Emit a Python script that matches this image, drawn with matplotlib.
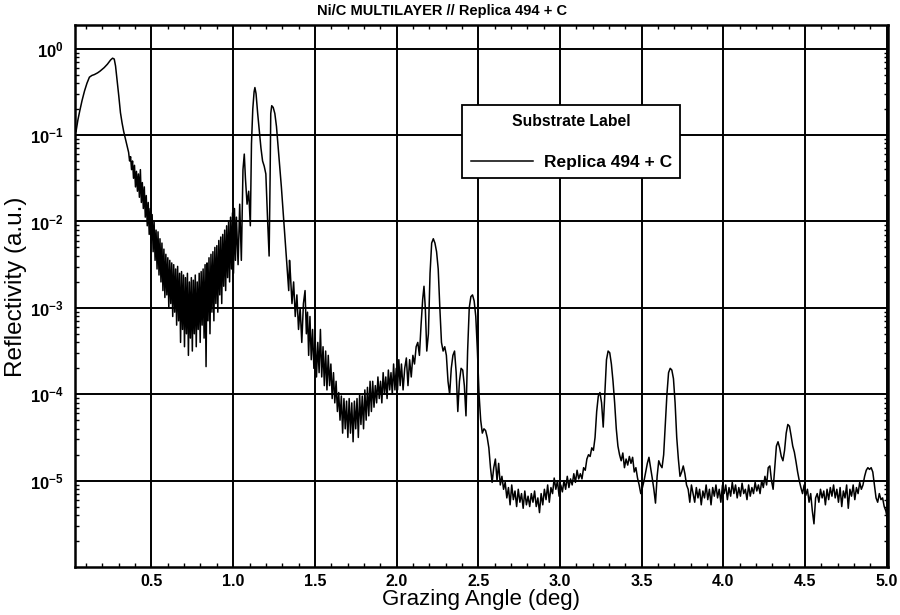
import numpy as np
import matplotlib
matplotlib.use("Agg")
import matplotlib.pyplot as plt
from matplotlib.ticker import MultipleLocator, FixedLocator, LogLocator, NullFormatter

plt.rcParams['font.family'] = ['Liberation Sans', 'DejaVu Sans']

# (grazing angle [deg], log10 reflectivity)
scan = [
    # total reflection plateau
    (0.038, -0.96), (0.05, -0.82), (0.061, -0.72), (0.075, -0.60), (0.09, -0.49),
    (0.105, -0.40), (0.12, -0.33), (0.135, -0.31), (0.15, -0.30), (0.17, -0.28),
    (0.185, -0.26), (0.21, -0.22), (0.23, -0.18), (0.25, -0.13), (0.262, -0.11),
    (0.272, -0.12), (0.28, -0.20), (0.29, -0.37), (0.30, -0.55), (0.31, -0.74),
    (0.32, -0.86), (0.33, -0.96), (0.345, -1.08), (0.36, -1.20),
    # noisy fall-off
    (0.366, -1.30), (0.372, -1.25), (0.378, -1.40), (0.384, -1.30), (0.390, -1.50),
    (0.396, -1.35), (0.402, -1.60), (0.408, -1.42), (0.414, -1.65), (0.420, -1.45),
    (0.426, -1.72), (0.432, -1.40), (0.438, -1.78), (0.444, -1.55), (0.450, -1.85),
    (0.456, -1.60), (0.462, -1.95), (0.468, -1.70), (0.474, -2.05), (0.480, -1.78),
    (0.486, -2.15), (0.492, -1.85), (0.498, -2.25), (0.504, -1.92), (0.510, -2.35),
    (0.516, -2.00), (0.522, -2.45), (0.528, -2.10), (0.534, -2.55), (0.540, -2.12),
    (0.546, -2.62), (0.552, -2.20), (0.558, -2.70), (0.564, -2.25), (0.570, -2.80),
    (0.576, -2.32), (0.582, -2.88), (0.588, -2.38), (0.594, -2.85), (0.600, -2.42),
    (0.606, -3.00), (0.612, -2.45), (0.618, -2.95), (0.624, -2.48), (0.630, -3.10),
    (0.636, -2.50), (0.642, -3.05), (0.648, -2.55), (0.654, -3.20), (0.660, -2.52),
    (0.666, -3.15), (0.672, -2.60), (0.678, -3.40), (0.684, -2.58), (0.690, -3.25),
    (0.696, -2.62), (0.702, -3.45), (0.708, -2.65), (0.714, -3.30), (0.720, -2.60),
    (0.726, -3.55), (0.732, -2.70), (0.738, -3.35), (0.744, -2.65), (0.750, -3.50),
    (0.756, -2.68), (0.762, -3.30), (0.768, -2.62), (0.774, -3.45), (0.780, -2.70),
    (0.786, -3.25), (0.792, -2.60), (0.798, -3.40), (0.804, -2.58), (0.810, -3.20),
    (0.816, -2.55), (0.822, -3.35), (0.828, -2.50), (0.834, -3.68), (0.840, -2.48),
    (0.846, -3.15), (0.852, -2.42), (0.858, -3.30), (0.864, -2.38), (0.870, -3.05),
    (0.876, -2.35), (0.882, -3.15), (0.888, -2.30), (0.894, -2.95), (0.900, -2.28),
    (0.906, -3.05), (0.912, -2.22), (0.918, -2.85), (0.924, -2.18), (0.930, -2.95),
    (0.936, -2.15), (0.942, -2.75), (0.948, -2.10), (0.954, -2.80), (0.960, -2.05),
    (0.966, -2.65), (0.972, -2.00), (0.978, -2.70), (0.984, -1.95), (0.990, -2.55),
    (0.996, -1.90), (1.002, -2.60), (1.008, -1.85), (1.014, -2.45), (1.020, -1.95),
    (1.030, -2.50), (1.040, -1.80), (1.050, -2.45),
    # first Bragg peaks
    (1.060, -1.40), (1.068, -1.22), (1.075, -1.50), (1.085, -1.80), (1.095, -1.65),
    (1.105, -2.05), (1.112, -1.10), (1.120, -0.70), (1.128, -0.50), (1.133, -0.45),
    (1.140, -0.52), (1.150, -0.75), (1.160, -0.95), (1.170, -1.15), (1.180, -1.30),
    (1.190, -1.36), (1.200, -1.45), (1.210, -1.95), (1.220, -2.40), (1.226, -1.50),
    (1.230, -0.75), (1.236, -0.66), (1.245, -0.68), (1.255, -0.75), (1.265, -0.90),
    (1.280, -1.25), (1.295, -1.60), (1.310, -2.00), (1.325, -2.40), (1.335, -2.65),
    (1.340, -2.80), (1.345, -2.45), (1.350, -2.60), (1.360, -2.95), (1.370, -2.70),
    (1.380, -3.10), (1.390, -2.85), (1.400, -3.25), (1.410, -3.00), (1.420, -3.40),
    (1.430, -2.95), (1.440, -2.80), (1.448, -3.30), (1.455, -3.05), (1.462, -3.55),
    (1.470, -3.10), (1.478, -3.60), (1.486, -3.25), (1.494, -3.70), (1.502, -3.35),
    (1.510, -3.80), (1.518, -3.40), (1.526, -3.75), (1.534, -3.25), (1.542, -3.80),
    (1.550, -3.45), (1.558, -3.90), (1.566, -3.50), (1.574, -3.95), (1.582, -3.55),
    (1.590, -3.90), (1.598, -3.65), (1.606, -4.05), (1.614, -3.75), (1.622, -4.10),
    (1.630, -3.85), (1.638, -4.20), (1.646, -3.98), (1.654, -4.30), (1.662, -4.02),
    (1.670, -4.45), (1.678, -4.05), (1.686, -4.40), (1.694, -4.08), (1.702, -4.50),
    (1.710, -4.05), (1.718, -4.45), (1.726, -4.10), (1.734, -4.55), (1.742, -4.08),
    (1.750, -4.40), (1.758, -4.05), (1.766, -4.50), (1.774, -4.00), (1.782, -4.35),
    (1.790, -4.02), (1.798, -4.40), (1.806, -3.95), (1.814, -4.30), (1.822, -3.92),
    (1.830, -4.25), (1.838, -3.85), (1.846, -4.20), (1.854, -3.85), (1.862, -4.15),
    (1.870, -3.90), (1.878, -4.10), (1.886, -3.80), (1.894, -4.05), (1.902, -3.85),
    (1.910, -4.10), (1.918, -3.75), (1.926, -4.00), (1.934, -3.80), (1.942, -4.05),
    (1.950, -3.72), (1.958, -3.95), (1.966, -3.75), (1.974, -4.00), (1.982, -3.65),
    (1.990, -3.95), (1.998, -3.70), (2.006, -3.95), (2.014, -3.60), (2.022, -3.90),
    (2.030, -3.65), (2.040, -3.95), (2.050, -3.70), (2.060, -3.58), (2.070, -3.90),
    (2.080, -3.60), (2.090, -3.80), (2.100, -3.55), (2.110, -3.65), (2.120, -3.45),
    (2.130, -3.40), (2.140, -3.55), (2.150, -3.20), (2.160, -2.90), (2.168, -2.75),
    (2.176, -3.00), (2.185, -3.50), (2.195, -3.30), (2.205, -2.60), (2.215, -2.25),
    (2.225, -2.20), (2.235, -2.25), (2.245, -2.35), (2.255, -2.55), (2.265, -3.00),
    (2.275, -3.40), (2.285, -3.50), (2.295, -3.45), (2.305, -3.55), (2.315, -3.85),
    (2.325, -4.00), (2.335, -3.70), (2.345, -3.55), (2.355, -3.50), (2.365, -3.75),
    (2.375, -4.20), (2.385, -3.85), (2.395, -3.70), (2.405, -3.72), (2.415, -3.90),
    (2.425, -4.25), (2.435, -3.50), (2.445, -3.00), (2.455, -2.87), (2.465, -2.85),
    (2.475, -2.92), (2.485, -3.10), (2.495, -3.50), (2.505, -4.00), (2.515, -4.30),
    (2.525, -4.45), (2.535, -4.40), (2.545, -4.42), (2.555, -4.50), (2.565, -4.62),
    (2.575, -4.85), (2.585, -5.02), (2.595, -4.85), (2.605, -4.75), (2.615, -5.00),
    (2.625, -4.80), (2.635, -5.05), (2.645, -4.95),
    # background
    (2.655, -5.10), (2.665, -5.02), (2.675, -5.20), (2.685, -5.08), (2.695, -5.28),
    (2.705, -5.05), (2.715, -5.22), (2.725, -5.12), (2.735, -5.30), (2.745, -5.10),
    (2.755, -5.25), (2.765, -5.15), (2.775, -5.32), (2.785, -5.12), (2.795, -5.28),
    (2.805, -5.18), (2.815, -5.30), (2.825, -5.15), (2.835, -5.25), (2.845, -5.12),
    (2.855, -5.30), (2.865, -5.20), (2.875, -5.37), (2.885, -5.15), (2.895, -5.28),
    (2.905, -5.10), (2.915, -5.22), (2.925, -5.05), (2.935, -5.25), (2.945, -5.08),
    (2.955, -5.15), (2.965, -4.97), (2.975, -5.10), (2.985, -5.00), (2.995, -5.18),
    (3.005, -5.05), (3.015, -5.13), (3.025, -5.00), (3.035, -5.10), (3.045, -4.95),
    (3.055, -5.08), (3.065, -4.98), (3.075, -5.05), (3.085, -4.92), (3.095, -5.02),
    (3.105, -4.88), (3.115, -4.98), (3.125, -4.92), (3.135, -4.98), (3.145, -4.85),
    (3.155, -4.88), (3.165, -4.75), (3.175, -4.70), (3.185, -4.72), (3.195, -4.62),
    (3.205, -4.65), (3.215, -4.50), (3.225, -4.20), (3.235, -4.02), (3.245, -3.98),
    (3.255, -4.10), (3.265, -4.38), (3.275, -4.00), (3.285, -3.60), (3.295, -3.50),
    (3.305, -3.52), (3.315, -3.65), (3.325, -3.85), (3.335, -4.10), (3.345, -4.40),
    (3.355, -4.60), (3.365, -4.70), (3.375, -4.77), (3.385, -4.68), (3.395, -4.85),
    (3.405, -4.75), (3.415, -4.82), (3.425, -4.72), (3.435, -4.80), (3.445, -4.73),
    (3.455, -4.90), (3.465, -4.85), (3.475, -4.97), (3.485, -5.05), (3.495, -5.15),
    (3.505, -5.08), (3.515, -5.00), (3.525, -4.90), (3.535, -4.80), (3.545, -4.73),
    (3.555, -4.85), (3.565, -4.97), (3.575, -5.10), (3.585, -5.26), (3.595, -4.95),
    (3.605, -4.77), (3.615, -4.82), (3.625, -4.85), (3.635, -4.70), (3.645, -4.35),
    (3.655, -4.00), (3.665, -3.75), (3.675, -3.70), (3.685, -3.72), (3.695, -3.82),
    (3.705, -4.10), (3.715, -4.50), (3.725, -4.75), (3.735, -4.95), (3.745, -4.90),
    (3.755, -4.83), (3.765, -4.92), (3.775, -5.05), (3.785, -5.10), (3.795, -5.25),
    (3.805, -5.05), (3.815, -5.15), (3.825, -5.25), (3.835, -5.08), (3.845, -5.20),
    (3.855, -5.10), (3.865, -5.28), (3.875, -5.12), (3.885, -5.20), (3.895, -5.05),
    (3.905, -5.22), (3.915, -5.10), (3.925, -5.28), (3.935, -5.08), (3.945, -5.18),
    (3.955, -5.05), (3.965, -5.20), (3.975, -5.10), (3.985, -5.25), (3.995, -5.05),
    (4.005, -5.15), (4.015, -5.05), (4.025, -5.22), (4.035, -5.08), (4.045, -5.18),
    (4.055, -5.02), (4.065, -5.15), (4.075, -5.05), (4.085, -5.20), (4.095, -5.08),
    (4.105, -5.18), (4.115, -5.03), (4.125, -5.15), (4.135, -5.10), (4.145, -5.22),
    (4.155, -5.05), (4.165, -5.18), (4.175, -5.08), (4.185, -5.15), (4.195, -5.02),
    (4.205, -5.12), (4.215, -5.05), (4.225, -5.15), (4.235, -5.00), (4.245, -5.08),
    (4.255, -4.95), (4.265, -5.05), (4.275, -4.85), (4.285, -4.83), (4.295, -5.00),
    (4.305, -5.10), (4.315, -4.85), (4.325, -4.60), (4.335, -4.55), (4.345, -4.62),
    (4.355, -4.72), (4.365, -4.77), (4.375, -4.65), (4.385, -4.45), (4.395, -4.35),
    (4.405, -4.37), (4.415, -4.48), (4.425, -4.60), (4.435, -4.67), (4.445, -4.78),
    (4.455, -4.90), (4.465, -5.00), (4.475, -5.08), (4.485, -5.15), (4.495, -5.05),
    (4.505, -5.17), (4.515, -5.10), (4.525, -5.25), (4.535, -5.15), (4.545, -5.35),
    (4.555, -5.50), (4.565, -5.20), (4.575, -5.15), (4.585, -5.25), (4.595, -5.10),
    (4.605, -5.20), (4.615, -5.12), (4.625, -5.28), (4.635, -5.10), (4.645, -5.22),
    (4.655, -5.08), (4.665, -5.18), (4.675, -5.05), (4.685, -5.20), (4.695, -5.10),
    (4.705, -5.25), (4.715, -5.08), (4.725, -5.30), (4.735, -5.12), (4.745, -5.20),
    (4.755, -5.05), (4.765, -5.32), (4.775, -5.10), (4.785, -5.18), (4.795, -5.05),
    (4.805, -5.22), (4.815, -5.08), (4.825, -5.15), (4.835, -5.02), (4.845, -5.10),
    (4.855, -5.05), (4.865, -4.95), (4.875, -4.88), (4.885, -4.85), (4.895, -4.87),
    (4.905, -4.85), (4.915, -4.90), (4.925, -5.05), (4.935, -5.20), (4.945, -5.25),
    (4.955, -5.15), (4.965, -5.22), (4.975, -5.20), (4.985, -5.30), (4.995, -5.35),
    (5.005, -5.45),
]

angle = np.array([p[0] for p in scan])
refl = 10.0 ** np.array([p[1] for p in scan])

xticks = [0.5, 1.0, 1.5, 2.0, 2.5, 3.0, 3.5, 4.0, 4.5, 5.0]
xticklabels = ["0.5", "1.0", "1.5", "2.0", "2.5", "3.0", "3.5", "4.0", "4.5", "5.0"]
yticks = [1e0, 1e-1, 1e-2, 1e-3, 1e-4, 1e-5]

fig = plt.figure(figsize=(9, 6.15), dpi=100)
ax = fig.add_axes([0.083, 0.078, 0.904, 0.882])

ax.plot(angle, refl, color="black", lw=1.1, label="Replica 494 + C", zorder=3)

ax.set_yscale("log")
ax.set_xlim(0.03, 5.01)
ax.set_ylim(1e-6, 1.9)

ax.set_xticks(xticks)
ax.set_xticklabels(xticklabels)
ax.xaxis.set_minor_locator(MultipleLocator(0.1))
ax.yaxis.set_major_locator(FixedLocator(yticks))
ax.yaxis.set_minor_locator(LogLocator(base=10, subs=np.arange(2, 10), numticks=20))
ax.yaxis.set_minor_formatter(NullFormatter())

ax.tick_params(which="both", direction="in", top=True, right=True, color="black")
ax.tick_params(which="major", length=0, labelsize=11.5, pad=8)
ax.tick_params(axis="x", which="major", pad=5)
ax.tick_params(which="minor", length=3, width=1.0)
ax.tick_params(axis="y", labelsize=12)
for lab in ax.get_xticklabels() + ax.get_yticklabels():
    lab.set_fontweight("bold")

ax.grid(True, which="major", color="black", lw=1.4)
for sp in ax.spines.values():
    sp.set_linewidth(1.8)

ax.set_xlabel("Grazing Angle (deg)", fontsize=16, labelpad=0)
ax.set_ylabel("Reflectivity (a.u.)", fontsize=17.5)
ax.yaxis.set_label_coords(-0.059, 0.517)

fig.text(0.491, 0.982, "Ni/C MULTILAYER // Replica 494 + C", ha="center", va="center",
         fontsize=10.5, fontweight="bold")

leg = ax.legend(loc="upper left", bbox_to_anchor=(0.476, 0.852, 0.268, 0.0), mode="expand",
                borderaxespad=0.0, title="Substrate Label", handlelength=3.6,
                handletextpad=0.6, labelspacing=1.5, borderpad=0.5, fancybox=False,
                framealpha=1, edgecolor="black", prop={"weight": "bold", "size": 12.5},
                title_fontproperties={"weight": "bold", "size": 11.3})
leg.get_frame().set_linewidth(1.3)

fig.savefig("out.png", dpi=100)
